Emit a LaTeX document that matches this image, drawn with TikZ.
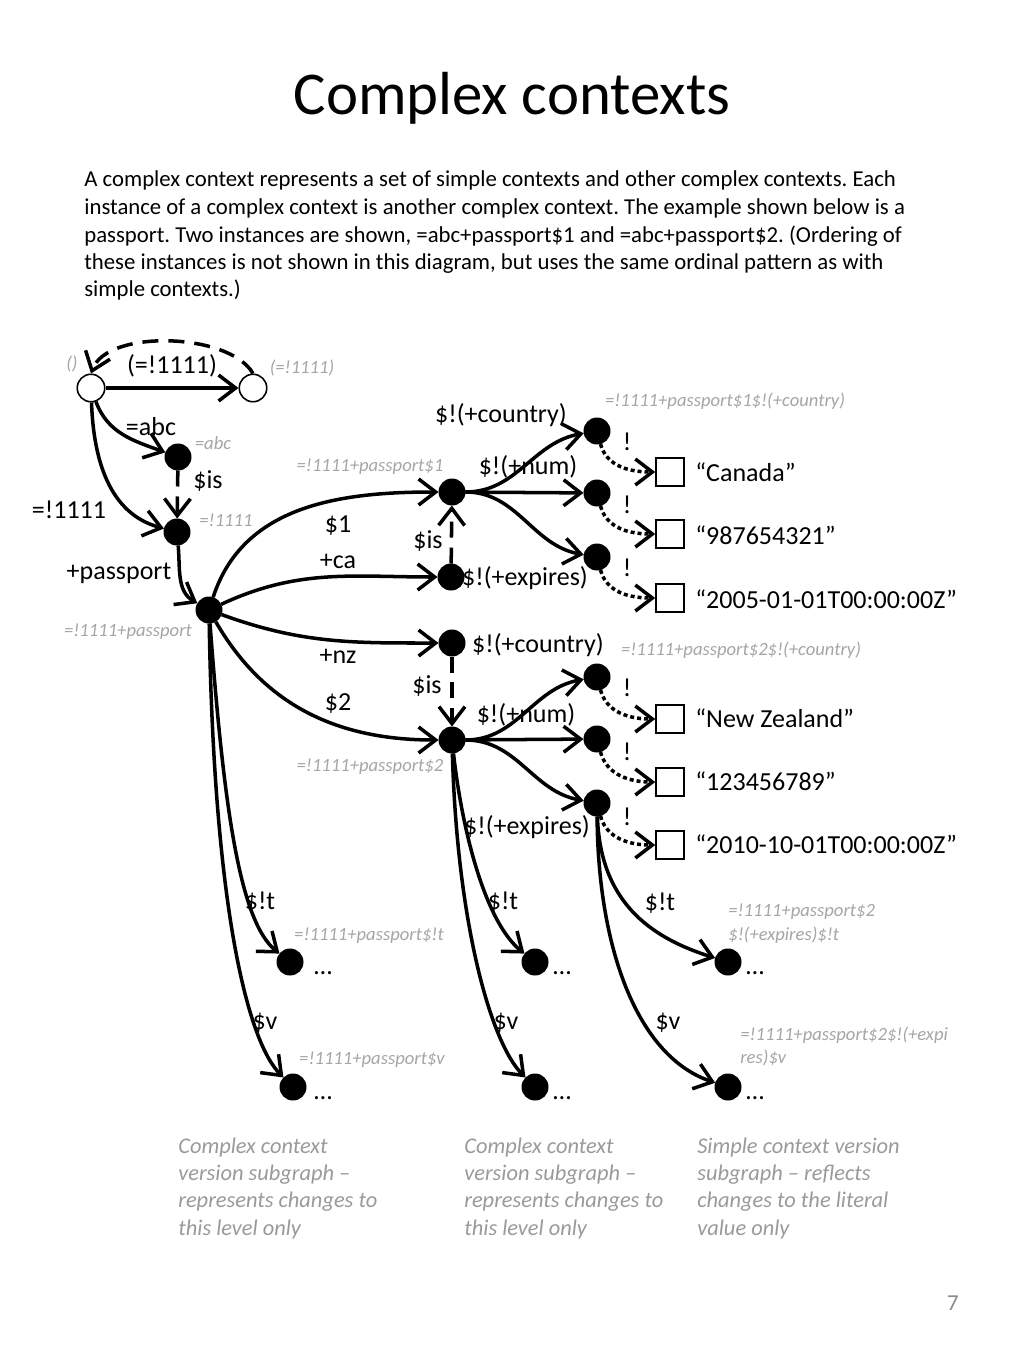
\documentclass[tikz,border=0pt]{standalone}
\usepackage{fontspec}
\setmainfont{Carlito}
\usetikzlibrary{arrows.meta}
\definecolor{lgray}{HTML}{A6A6A6}
\definecolor{cgray}{HTML}{9A9A9A}
\definecolor{pgray}{HTML}{8A8A8A}
\begin{document}
\frenchspacing
\begin{tikzpicture}[x=0.02cm,y=0.02cm,
  dot/.style={circle,fill=black,minimum size=0.54cm,inner sep=0pt,outer sep=0pt},
  hollow/.style={circle,draw=black,line width=0.9pt,fill=white,minimum size=0.55cm,inner sep=0pt},
  valbox/.style={draw=black,line width=0.9pt,fill=white,minimum size=0.56cm,inner sep=0pt},
  lbl/.style={font=\fontsize{14.8}{17}\selectfont,inner sep=0pt},
  val/.style={font=\fontsize{14.8}{17}\selectfont,anchor=west,inner sep=0pt},
  glbl/.style={font=\fontsize{10.6}{13}\selectfont\itshape,text=lgray,inner sep=0pt},
  para/.style={font=\fontsize{12.95}{15.5}\selectfont,anchor=base west,inner sep=0pt},
  capt/.style={font=\fontsize{12.75}{15.4}\selectfont\itshape,text=cgray,anchor=base west,inner sep=0pt},
  conn/.style={line width=2pt,-{Straight Barb[length=3.4mm,width=5.2mm]}},
  dashconn/.style={conn,dash pattern=on 0.32cm off 0.2cm},
  dotconn/.style={conn,dash pattern=on 0.8mm off 0.6mm},
]
\path[use as bounding box,fill=white] (0,0) rectangle (1024,-1365);

% title and paragraph
\node[font=\fontsize{34.6}{40}\selectfont,anchor=base,inner sep=0pt] (title) at (512,-115) {Complex contexts};
\node[para] (par1) at (84,-187) {A complex context represents a set of simple contexts and other complex contexts. Each};
\node[para] (par2) at (84,-214.5) {instance of a complex context is another complex context. The example shown below is a};
\node[para] (par3) at (84,-242) {passport. Two instances are shown, =abc+passport\$1 and =abc+passport\$2. (Ordering of};
\node[para] (par4) at (84,-269) {these instances is not shown in this diagram, but uses the same ordinal pattern as with};
\node[para] (par5) at (84,-296.5) {simple contexts.)};

% nodes
\node[hollow] (O1) at (91,-388) {};
\node[hollow] (O2) at (253,-388) {};
\node[dot] (abc) at (178,-457) {};
\node[dot] (n1) at (177,-532) {};
\node[dot] (pp) at (209,-610) {};
\node[dot] (p1) at (452,-492) {};
\node[dot] (ca) at (451,-577) {};
\node[dot] (c1) at (597,-431) {};
\node[dot] (h1) at (597,-493) {};
\node[dot] (e1) at (597,-557) {};
\node[valbox] (b1) at (670,-472) {};
\node[valbox] (b2) at (670,-534) {};
\node[valbox] (b3) at (670,-598) {};
\node[dot] (nz) at (452,-643) {};
\node[dot] (p2) at (452,-740) {};
\node[dot] (c2) at (597,-677) {};
\node[dot] (h2) at (597,-739) {};
\node[dot] (e2) at (597,-803) {};
\node[valbox] (b4) at (670,-719) {};
\node[valbox] (b5) at (670,-782) {};
\node[valbox] (b6) at (670,-845) {};
\node[dot] (t1) at (290,-962) {};
\node[dot] (v1) at (293,-1087) {};
\node[dot] (t2) at (535,-962) {};
\node[dot] (v2) at (535,-1087) {};
\node[dot] (t3) at (728,-962) {};
\node[dot] (v3) at (728,-1087) {};

% connectors
\draw[conn] (O1) -- (O2);
\draw[dashconn] (O2.north) to[out=120,in=70,looseness=0.75] (O1.north);
\draw[conn] (O1) to[out=-70,in=160] (abc);
\draw[conn] (O1) to[out=-88,in=165] (n1);
\draw[dashconn] (abc) -- (n1);
\draw[conn] (n1) to[out=-85,in=150] (pp);
\draw[conn] (pp) to[out=72,in=180] (p1);
\draw[conn] (pp) to[out=25,in=180] (ca);
\draw[conn] (pp) to[out=-20,in=180] (nz);
\draw[conn] (pp) to[out=-60,in=180] (p2);
\draw[dashconn] (ca) -- (p1);
\draw[dashconn] (nz) -- (p2);
\draw[conn] (p1) to[out=0,in=190] (c1);
\draw[conn] (p1) -- (h1);
\draw[conn] (p1) to[out=0,in=170] (e1);
\draw[conn] (p2) to[out=0,in=190] (c2);
\draw[conn] (p2) -- (h2);
\draw[conn] (p2) to[out=0,in=170] (e2);
\draw[dotconn] (c1) to[out=-75,in=180] (b1);
\draw[dotconn] (h1) to[out=-75,in=180] (b2);
\draw[dotconn] (e1) to[out=-75,in=180] (b3);
\draw[dotconn] (c2) to[out=-75,in=180] (b4);
\draw[dotconn] (h2) to[out=-75,in=180] (b5);
\draw[dotconn] (e2) to[out=-75,in=180] (b6);
\draw[conn] (pp) .. controls +(15,-200) and +(-50,40) .. (t1);
\draw[conn] (pp) .. controls +(5,-300) and +(-45,45) .. (v1);
\draw[conn] (p2) .. controls +(10,-90) and +(-50,40) .. (t2);
\draw[conn] (p2) .. controls +(5,-180) and +(-45,45) .. (v2);
\draw[conn] (e2) .. controls +(3,-97) and +(-80,25) .. (t3);
\draw[conn] (e2) .. controls +(1,-147) and +(-90,30) .. (v3);

% black labels
\node[lbl] (l1) at (172,-366) {(=!1111)};
\node[lbl] (l2) at (151,-427) {=abc};
\node[lbl] (l3) at (208,-481) {\$is};
\node[lbl] (l4) at (69,-510) {=!1111};
\node[lbl] (l5) at (119,-573) {+passport};
\node[lbl] (l6) at (338,-526) {\$1};
\node[lbl] (l7) at (338,-561) {+ca};
\node[lbl] (l8) at (428,-541) {\$is};
\node[lbl] (l9) at (501,-415) {\$!(+country)};
\node[lbl] (l10) at (528,-467) {\$!(+num)};
\node[lbl] (l11) at (525,-578) {\$!(+expires)};
\node[lbl] (l12) at (338,-656) {+nz};
\node[lbl] (l13) at (538,-645) {\$!(+country)};
\node[lbl] (l14) at (427,-686) {\$is};
\node[lbl] (l15) at (338,-704) {\$2};
\node[lbl] (l16) at (526,-715) {\$!(+num)};
\node[lbl] (l17) at (527,-827) {\$!(+expires)};
\node[lbl] (x1) at (627,-442) {!};
\node[lbl] (x2) at (627,-505) {!};
\node[lbl] (x3) at (627,-568) {!};
\node[lbl] (x4) at (627,-688) {!};
\node[lbl] (x5) at (627,-752) {!};
\node[lbl] (x6) at (627,-817) {!};
\node[lbl] (s1) at (260,-902) {\$!t};
\node[lbl] (s2) at (265,-1023) {\$v};
\node[lbl] (s3) at (503,-902) {\$!t};
\node[lbl] (s4) at (506,-1023) {\$v};
\node[lbl] (s5) at (660,-903) {\$!t};
\node[lbl] (s6) at (668,-1023) {\$v};
\node[lbl] (d1) at (323,-973) {…};
\node[lbl] (d2) at (323,-1098) {…};
\node[lbl] (d3) at (562,-973) {…};
\node[lbl] (d4) at (562,-1098) {…};
\node[lbl] (d5) at (755,-973) {…};
\node[lbl] (d6) at (755,-1098) {…};

% values
\node[val] (w1) at (695,-472) {“Canada”};
\node[val] (w2) at (695,-535) {“987654321”};
\node[val] (w3) at (695,-599) {“2005-01-01T00:00:00Z”};
\node[val] (w4) at (695,-718) {“New Zealand”};
\node[val] (w5) at (695,-781) {“123456789”};
\node[val] (w6) at (695,-844) {“2010-10-01T00:00:00Z”};

% grey labels
\node[glbl] (g1) at (72,-364) {()};
\node[glbl] (g2) at (302,-368) {(=!1111)};
\node[glbl] (g3) at (213,-443) {=abc};
\node[glbl] (g4) at (226,-520) {=!1111};
\node[glbl] (g5) at (128,-632) {=!1111+passport};
\node[glbl] (g6) at (370,-467) {=!1111+passport\$1};
\node[glbl] (g7) at (725,-401) {=!1111+passport\$1\$!(+country)};
\node[glbl] (g8) at (741,-650) {=!1111+passport\$2\$!(+country)};
\node[glbl] (g9) at (370,-767) {=!1111+passport\$2};
\node[glbl] (g10) at (369,-936) {=!1111+passport\$!t};
\node[glbl] (g11) at (372,-1060) {=!1111+passport\$v};
\node[glbl,anchor=west] (g12) at (728,-912) {=!1111+passport\$2};
\node[glbl,anchor=west] (g13) at (728,-935) {\$!(+expires)\$!t};
\node[glbl,anchor=west] (g14) at (740,-1035) {=!1111+passport\$2\$!(+expi};
\node[glbl,anchor=west] (g15) at (740,-1058) {res)\$v};

% captions
\node[capt] (ca1) at (178,-1153) {Complex context};
\node[capt] (ca2) at (178,-1180) {version subgraph –};
\node[capt] (ca3) at (178,-1207) {represents changes to};
\node[capt] (ca4) at (178,-1235) {this level only};
\node[capt] (cb1) at (464,-1153) {Complex context};
\node[capt] (cb2) at (464,-1180) {version subgraph –};
\node[capt] (cb3) at (464,-1207) {represents changes to};
\node[capt] (cb4) at (464,-1235) {this level only};
\node[capt] (cc1) at (697,-1153) {Simple context version};
\node[capt] (cc2) at (697,-1180) {subgraph – reflects};
\node[capt] (cc3) at (697,-1207) {changes to the literal};
\node[capt] (cc4) at (697,-1235) {value only};

\node[font=\fontsize{13}{15}\selectfont,text=pgray,anchor=base,inner sep=0pt] (pg) at (953,-1310) {7};
\end{tikzpicture}
\end{document}
